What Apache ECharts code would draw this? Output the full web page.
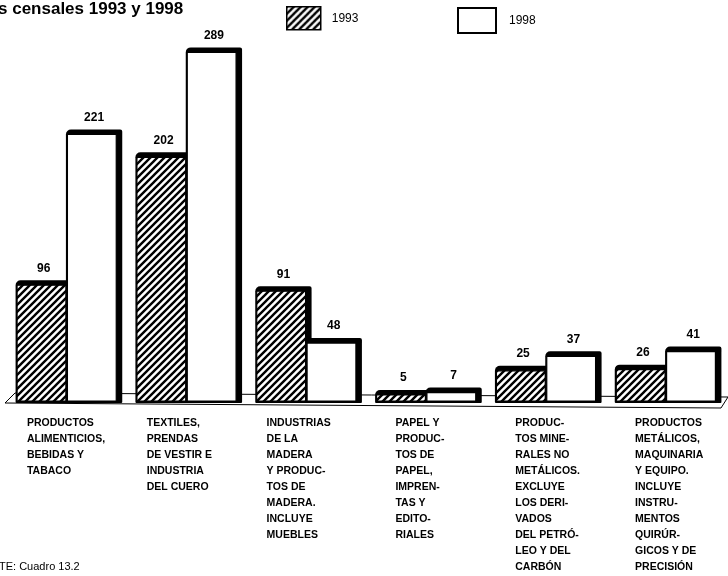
<!DOCTYPE html>
<html>
<head>
<meta charset="utf-8">
<script src="https://cdn.jsdelivr.net/npm/echarts@6/dist/echarts.min.js"></script>
<style>
html,body{margin:0;padding:0;background:#fff;}
#chart{width:728px;height:576px;}
</style>
</head>
<body>
<div id="chart"></div>
<script>
const categories = [
  'PRODUCTOS\nALIMENTICIOS,\nBEBIDAS Y\nTABACO',
  'TEXTILES,\nPRENDAS\nDE VESTIR E\nINDUSTRIA\nDEL CUERO',
  'INDUSTRIAS\nDE LA\nMADERA\nY PRODUC-\nTOS DE\nMADERA.\nINCLUYE\nMUEBLES',
  'PAPEL Y\nPRODUC-\nTOS DE\nPAPEL,\nIMPREN-\nTAS Y\nEDITO-\nRIALES',
  'PRODUC-\nTOS MINE-\nRALES NO\nMETÁLICOS.\nEXCLUYE\nLOS DERI-\nVADOS\nDEL PETRÓ-\nLEO Y DEL\nCARBÓN',
  'PRODUCTOS\nMETÁLICOS,\nMAQUINARIA\nY EQUIPO.\nINCLUYE\nINSTRU-\nMENTOS\nQUIRÚR-\nGICOS Y DE\nPRECISIÓN'
];
const values1993 = [96, 202, 91, 5, 25, 26];
const values1998 = [221, 289, 48, 7, 37, 41];
const seriesNames = ['1993', '1998'];
const titleText = 's censales 1993 y 1998';
const sourceText = 'TE: Cuadro 13.2';

// hatch pattern ///
function makeHatch() {
  const s = 7;
  const c = document.createElement('canvas');
  c.width = s; c.height = s;
  const ctx = c.getContext('2d');
  ctx.fillStyle = '#fff';
  ctx.fillRect(0, 0, s, s);
  ctx.strokeStyle = '#000';
  ctx.lineWidth = 2.4;
  ctx.lineCap = 'square';
  const seg = (x1, y1, x2, y2) => { ctx.beginPath(); ctx.moveTo(x1, y1); ctx.lineTo(x2, y2); ctx.stroke(); };
  seg(-1, s + 1, s + 1, -1);
  seg(-1, 1, 1, -1);
  seg(s - 1, s + 1, s + 1, s - 1);
  return c;
}
const hatch = { image: makeHatch(), repeat: 'repeat' };
const FONT = '"Liberation Sans", Arial, Helvetica, sans-serif';

function makeRender(which) {
  return function (params, api) {
    const i = api.value(0);
    const v = api.value(1);
    const top = api.coord([i, v]);
    const base = api.coord([i, 0]);
    const band = api.size([1, 0])[0];
    const bw = band * 0.42;
    const cx = top[0];
    const x0 = which === 0 ? cx - bw - 3 : cx - 3;
    const x1 = x0 + bw;
    const yt = top[1];
    const yb = base[1];
    const sh = 6, tb = 5;
    return {
      type: 'group',
      children: [
        {
          type: 'rect',
          shape: { x: x0, y: yt - tb, width: (x1 - x0) + sh, height: yb - yt + tb + 2, r: [5, 2, 1, 1] },
          style: { fill: '#000' }
        },
        {
          type: 'rect',
          shape: { x: x0 + 1.5, y: yt, width: (x1 - x0) - 1.5, height: Math.max(yb - yt, 0.5) },
          style: { fill: which === 0 ? hatch : '#fff', stroke: '#000', lineWidth: 1.2 }
        },
        {
          type: 'text',
          style: {
            text: String(v), x: (x0 + x1 + sh) / 2, y: yt - tb - 6,
            align: 'center', verticalAlign: 'bottom',
            font: 'bold 12px ' + FONT, fill: '#000'
          }
        }
      ]
    };
  };
}

const chart = echarts.init(document.getElementById('chart'), null, { renderer: 'canvas' });
chart.setOption({
  animation: false,
  backgroundColor: '#fff',
  title: [
    { text: titleText, left: -2, top: 1, padding: 0,
      textStyle: { fontFamily: FONT, fontWeight: 'bold', fontSize: 17, color: '#000' } },
    { text: sourceText, left: -1, top: 561, padding: 0,
      textStyle: { fontFamily: FONT, fontWeight: 'normal', fontSize: 11, color: '#000' } }
  ],
  legend: [
    { data: [{ name: seriesNames[0], itemStyle: { color: hatch, borderColor: '#000', borderWidth: 1.5 } }],
      left: 286, top: 6, itemWidth: 34, itemHeight: 23, icon: 'rect', padding: 0,
      textStyle: { fontFamily: FONT, fontSize: 12, color: '#000', padding: [8, 0, 0, 6] } },
    { data: [{ name: seriesNames[1], itemStyle: { color: '#fff', borderColor: '#000', borderWidth: 2 } }],
      left: 457, top: 7, itemWidth: 38, itemHeight: 25, icon: 'rect', padding: 0,
      textStyle: { fontFamily: FONT, fontSize: 12, color: '#000', padding: [6, 0, 0, 8] } }
  ],
  grid: { left: 9, width: 720, top: 15, height: 386, containLabel: false },
  xAxis: {
    type: 'category', data: categories,
    axisLine: { show: false }, axisTick: { show: false },
    axisLabel: {
      interval: 0, margin: 14, align: 'center',
      formatter: function (val, idx) {
        const k = idx < 3 ? 'a' : 'b';
        return val.split('\n').map(l => '{' + k + '|' + l + '}').join('\n');
      },
      rich: {
        a: { width: 84, align: 'left', fontFamily: FONT, fontWeight: 'bold', fontSize: 10.5, lineHeight: 16, color: '#000' },
        b: { width: 66, align: 'left', fontFamily: FONT, fontWeight: 'bold', fontSize: 10.5, lineHeight: 16, color: '#000' }
      }
    }
  },
  yAxis: { type: 'value', min: 0, max: 320, show: false },
  graphic: [
    { type: 'polygon', z: -10, silent: true,
      shape: { points: [[5, 403], [15, 393], [728, 397], [721, 408]] },
      style: { fill: '#fff', stroke: '#000', lineWidth: 1 } }
  ],
  series: [
    { name: seriesNames[0], type: 'custom', renderItem: makeRender(0),
      itemStyle: { color: hatch, borderColor: '#000' },
      data: values1993.map((v, i) => [i, v]), z: 2 },
    { name: seriesNames[1], type: 'custom', renderItem: makeRender(1),
      itemStyle: { color: '#fff', borderColor: '#000' },
      data: values1998.map((v, i) => [i, v]), z: 3 }
  ]
});
</script>
</body>
</html>
